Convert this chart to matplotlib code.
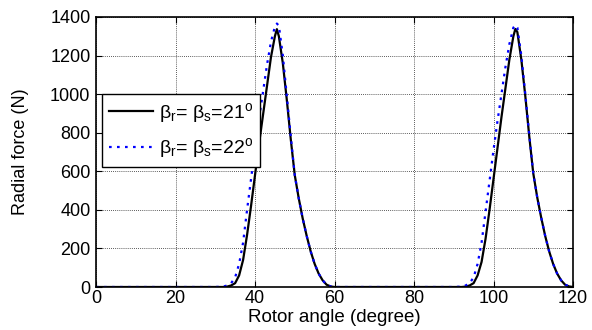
import matplotlib
matplotlib.use("Agg")
import matplotlib.pyplot as plt

plt.rcParams['font.family'] = ['Liberation Sans', 'DejaVu Sans']
plt.rcParams['mathtext.fontset'] = 'custom'
plt.rcParams['mathtext.rm'] = 'Liberation Sans'
plt.rcParams['mathtext.it'] = 'Liberation Sans:italic'

# rotor angle (degree)
angle = [0, 30, 32, 33, 34, 35, 36, 37, 38, 39, 40, 41, 42, 43, 44, 45, 45.5, 46,
         47, 48, 49, 50, 51, 52, 53, 54, 55, 56, 57, 58, 59, 60,
         90, 92, 93, 94, 95, 96, 97, 98, 99, 100, 101, 102, 103, 104, 105, 105.5, 106,
         107, 108, 109, 110, 111, 112, 113, 114, 115, 116, 117, 118, 119, 120]

# radial force (N), beta_r = beta_s = 21 deg
force_21 = [0, 0, 0, 2, 8, 20, 60, 140, 270, 420, 580, 740, 890, 1040, 1190, 1300, 1337, 1300,
            1160, 970, 765, 580, 460, 355, 265, 185, 120, 70, 35, 12, 3, 0,
            0, 0, 2, 8, 20, 60, 130, 250, 400, 560, 720, 880, 1030, 1180, 1300, 1338, 1322,
            1180, 990, 780, 590, 465, 360, 265, 185, 120, 70, 35, 12, 3, 0]

# radial force (N), beta_r = beta_s = 22 deg
force_22 = [0, 0, 2, 8, 20, 50, 120, 230, 400, 560, 720, 870, 1010, 1150, 1270, 1350, 1366, 1355,
            1200, 990, 780, 580, 460, 355, 265, 185, 120, 70, 35, 12, 3, 0,
            0, 2, 8, 20, 50, 120, 230, 390, 550, 710, 860, 1000, 1140, 1260, 1345, 1358, 1345,
            1200, 1000, 790, 590, 465, 360, 265, 185, 120, 70, 35, 12, 3, 0]

labels = [r'$\mathrm{\beta}_{\rm r}$= $\mathrm{\beta}_{\rm s}$=21$^{\rm o}$',
          r'$\mathrm{\beta}_{\rm r}$= $\mathrm{\beta}_{\rm s}$=22$^{\rm o}$']

fig = plt.figure(figsize=(5.92, 3.30), dpi=100)
ax = fig.add_axes([0.1622, 0.1303, 0.8057, 0.8182])

ax.plot(angle, force_21, color='k', lw=1.6, label=labels[0])
ax.plot(angle, force_22, color=(0, 0, 1), lw=1.6, linestyle=(0, (1.2, 2.4)), label=labels[1])

ax.set_xlim(0, 120)
ax.set_ylim(0, 1400)
ax.set_xticks(range(0, 121, 20))
ax.set_yticks(range(0, 1401, 200))
ax.grid(True, color='0.15', lw=0.6, linestyle=(0, (1, 1.5)))
ax.tick_params(direction='in', top=True, right=True, length=4, width=0.8,
               labelsize=13, pad=4)
ax.tick_params(axis='x', pad=2)
for sp in ax.spines.values():
    sp.set_linewidth(1.2)

ax.set_xlabel('Rotor angle (degree)', fontsize=13.5)
ax.set_ylabel('Radial force (N)', fontsize=13)
ax.xaxis.set_label_coords(0.5, -0.083)
ax.yaxis.set_label_coords(-0.14, 0.5)

leg = ax.legend(loc='upper left', bbox_to_anchor=(0.012, 0.715), fontsize=14,
                frameon=True, fancybox=False, edgecolor='k', framealpha=1,
                handlelength=2.3, handletextpad=0.3, borderpad=0.35,
                labelspacing=0.6, borderaxespad=0)
leg.get_frame().set_linewidth(1.0)

fig.savefig('out.png', dpi=100)
